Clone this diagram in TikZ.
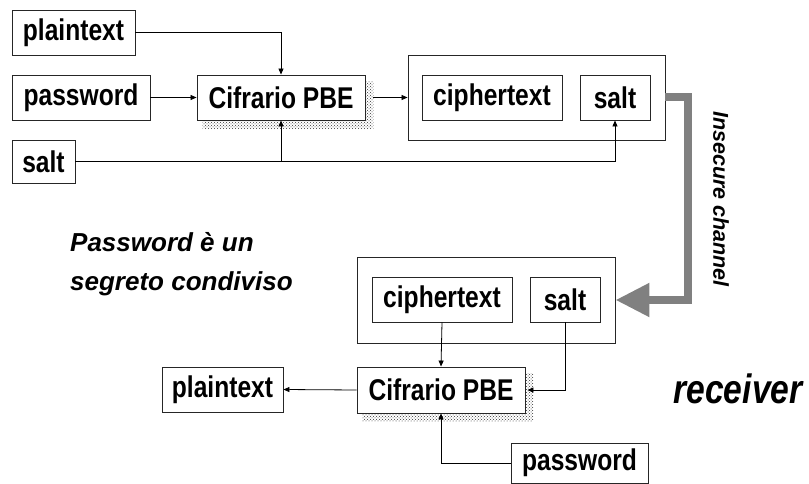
\documentclass[tikz,border=0pt]{standalone}
\usepackage{fontspec}
\setmainfont{Liberation Sans}
\newfontfamily\narrowsans[FakeStretch=0.82]{Liberation Sans}
\usetikzlibrary{arrows.meta,patterns,calc,backgrounds}
\begin{document}
\begin{tikzpicture}[x=1pt,y=-1pt,
  box/.style={draw=black!85, line width=0.9pt, fill=white, inner sep=0pt,
    font=\narrowsans\bfseries\fontsize{30}{34}\selectfont},
  cont/.style={draw=black!85, line width=0.9pt, fill=white, inner sep=0pt},
  conn/.style={draw=black, line width=0.8pt, -{Triangle[length=6pt,width=5pt]}},
  plainline/.style={draw=black, line width=0.8pt},
  bigarrow/.style={draw=black!50, line width=8pt, line join=miter,
    -{Triangle[length=34pt,width=32pt]}},
  note/.style={font=\bfseries\itshape\fontsize{26}{39}\selectfont, inner sep=0pt},
  shadowpat/.style={pattern=crosshatch dots, pattern color=black!80}
]
\useasboundingbox (0,0) rectangle (809,484);

% top (sender)
\node[box, minimum width=123, minimum height=45] (pt1) at (73.5,32.5) {plaintext};
\node[box, minimum width=138, minimum height=45] (pw1) at (81,97.5) {password};
\node[box, minimum width=63, minimum height=43] (sl1) at (43.5,161.5) {salt};
\node[box, minimum width=168, minimum height=45] (cif1) at (281,97.5) {Cifrario PBE};
\node[cont, minimum width=257, minimum height=85] (co1) at (536.5,97.5) {};
\node[box, minimum width=140, minimum height=45] (ct1) at (492,97.5) {ciphertext};
\node[box, minimum width=70, minimum height=45] (st1) at (615,97.5) {salt};

% bottom (receiver)
\node[cont, minimum width=258, minimum height=86] (co2) at (486,300) {};
\node[box, minimum width=140, minimum height=45] (ct2) at (442,299.5) {ciphertext};
\node[box, minimum width=70, minimum height=45] (st2) at (565,299.5) {salt};
\node[box, minimum width=168, minimum height=46] (cif2) at (441,390) {Cifrario PBE};
\node[box, minimum width=121, minimum height=45] (pt2) at (222.5,389.5) {plaintext};
\node[box, minimum width=137, minimum height=40] (pw2) at (579.5,463) {password};

% shadows
\begin{scope}[on background layer]
  \fill[shadowpat] ($(cif1.north west)+(6,7)$) rectangle ($(cif1.south east)+(8,8)$);
  \fill[shadowpat] ($(cif2.north west)+(6,7)$) rectangle ($(cif2.south east)+(8,8)$);
\end{scope}

% connectors top
\draw[conn] (pt1.east) -| (cif1.north);
\draw[conn] (pw1.east) -- (cif1.west);
\coordinate (sj) at (sl1.east -| cif1.south);
\draw[plainline] (sl1.east) -- (sj);
\draw[conn] (sj) -- (cif1.south);
\draw[conn] (sj) -| (st1.south);
\draw[conn] ($(cif1.east)+(8,0)$) -- (co1.west);

% insecure channel
\coordinate (bend) at (688,97.5);
\draw[bigarrow] (co1.east) -- (bend) |- (co2.east);
\node[note, rotate=-90, font=\bfseries\itshape\fontsize{21.5}{24}\selectfont] (ic) at (721,199) {Insecure channel};

% connectors bottom
\draw[conn] (ct2.south) -- (cif2.north);
\draw[conn] (st2.south) |- ($(cif2.east)+(2,0)$);
\draw[conn] (cif2.west) -- (pt2.east);
\draw[conn] (pw2.west) -| (cif2.south);

% texts
\node[note, anchor=north west, align=left] (ps) at (70,232) {Password è un\\segreto condiviso};
\node[inner sep=0pt, font=\narrowsans\bfseries\itshape\fontsize{41}{44}\selectfont] (rc) at (738,389) {receiver};
\end{tikzpicture}
\end{document}
